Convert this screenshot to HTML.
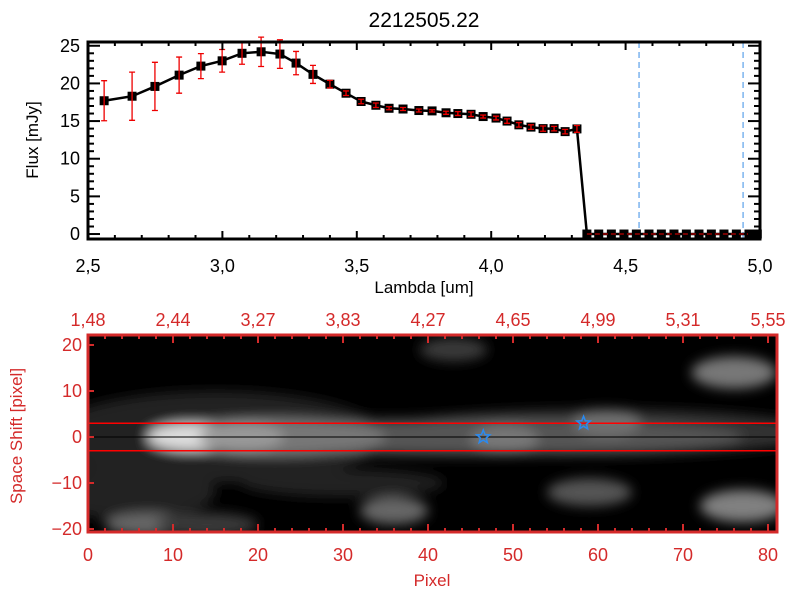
<!DOCTYPE html>
<html><head><meta charset="utf-8"><style>
html,body{margin:0;padding:0;background:#fff;}
svg text{font-family:"Liberation Sans",sans-serif;}
</style></head><body>
<svg id="fig" width="800" height="600" xmlns="http://www.w3.org/2000/svg">
<defs>
<filter id="blur" x="-30%" y="-80%" width="160%" height="260%"><feGaussianBlur stdDeviation="6"/></filter>
<clipPath id="hclip"><rect x="89" y="336" width="687" height="195"/></clipPath>
</defs>
<text x="424" y="27" font-size="21" text-anchor="middle">2212505.22</text>
<g id="topg"></g>
<g id="botg"></g>
</svg>
<script>
const lambdas=[2.560,2.664,2.749,2.839,2.920,2.999,3.073,3.144,3.214,3.274,3.337,3.400,3.460,3.516,3.571,3.620,3.672,3.731,3.780,3.832,3.876,3.925,3.970,4.018,4.059,4.103,4.148,4.193,4.234,4.275,4.319,4.356,4.40,4.447,4.494,4.540,4.587,4.633,4.680,4.726,4.773,4.819,4.866,4.912,4.959,4.99];
const fluxes=[17.7,18.3,19.6,21.1,22.3,23.0,24.0,24.2,23.9,22.7,21.2,19.9,18.7,17.6,17.1,16.7,16.6,16.4,16.35,16.1,16.0,15.9,15.6,15.4,15.0,14.5,14.2,14.0,14.0,13.6,13.96,0,0,0,0,0,0,0,0,0,0,0,0,0,0,0];
const errors=[2.66,3.2,3.2,2.4,1.66,1.5,1.45,1.95,1.9,1.55,1.2,0.5,0.3,0.3,0.3,0.2,0.2,0.2,0.15,0.2,0.25,0.3,0.2,0.25,0.3,0.3,0.3,0.35,0.3,0.3,0.45,0,0,0,0,0,0,0,0,0,0,0,0,0,0,0];
const xTicks=["2.5","3.0","3.5","4.0","4.5","5.0"];
const yTicks=["0","5","10","15","20","25"];
const vLines=[4.55,4.937];
const pixTicks=["0","10","20","30","40","50","60","70","80"];
const lamTop=["1.48","2.44","3.27","3.83","4.27","4.65","4.99","5.31","5.55"];
const shiftTicks=["-20","-10","0","10","20"];
const stars=[[46.5,0],[58.3,3]];
const NS="http://www.w3.org/2000/svg";
function mk(p,tag,a){const el=document.createElementNS(NS,tag);for(const k in a)el.setAttribute(k,a[k]);p.appendChild(el);return el;}
const X0=88,X1=760,Y0=239,Y1=42;
const xs=v=>X0+(v-2.5)/2.5*(X1-X0);
const ys=v=>Y0-(v+0.66)/(25.5+0.66)*(Y0-Y1);
const topG=document.getElementById('topg');
vLines.forEach(v=>{const l=mk(topG,'line',{x1:xs(v),x2:xs(v),y1:Y1,y2:Y0,stroke:'#3a8ee6','stroke-width':1,'stroke-dasharray':'6,4'});

});
const ln=mk(topG,'polyline',{points:lambdas.map((l,i)=>xs(l)+','+ys(fluxes[i])).join(' '),fill:'none',stroke:'#000','stroke-width':2.5});


lambdas.forEach((l,i)=>{const x=xs(l),y=ys(fluxes[i]);
 const m=mk(topG,'rect',{x:x-4.5,y:y-4.5,width:9,height:9,fill:'#000'});
 
 
 if(errors[i]>0){const a=ys(fluxes[i]+errors[i]),b=ys(fluxes[i]-errors[i]);
  const g=mk(topG,'path',{d:`M${x},${a}V${b}M${x-3},${a}h6M${x-3},${b}h6`,stroke:'#e00','stroke-width':1.3,fill:'none'});
  
  }
});
const zl=mk(topG,'line',{x1:xs(4.356),x2:X1,y1:ys(0),y2:ys(0),stroke:'#e00','stroke-width':1,'stroke-dasharray':'5,3'});


mk(topG,'rect',{x:X0,y:Y1,width:X1-X0,height:Y0-Y1,fill:'none',stroke:'#000','stroke-width':3});
for(let v=2.5;v<=5.001;v+=0.1){const x=xs(v),mj=Math.abs(v*2-Math.round(v*2))<0.01,h=mj?8:4;
 mk(topG,'line',{x1:x,x2:x,y1:Y0,y2:Y0-h,stroke:'#000','stroke-width':2});mk(topG,'line',{x1:x,x2:x,y1:Y1,y2:Y1+h,stroke:'#000','stroke-width':2});}
for(let v=0;v<=25;v++){const y=ys(v),h=v%5==0?12:6;
 mk(topG,'line',{x1:X0,x2:X0+h,y1:y,y2:y,stroke:'#000','stroke-width':2});mk(topG,'line',{x1:X1,x2:X1-h,y1:y,y2:y,stroke:'#000','stroke-width':2});}
xTicks.forEach(t=>{const el=mk(topG,'text',{x:xs(parseFloat(t)),y:272,'font-size':18,'text-anchor':'middle'});el.textContent=t.replace('.',',');
 
 });
yTicks.forEach(t=>{const el=mk(topG,'text',{x:80,y:ys(parseFloat(t))+6,'font-size':18,'text-anchor':'end'});el.textContent=t;
 
 });
let tx=mk(topG,'text',{x:424,y:293,'font-size':17,'text-anchor':'middle'});tx.textContent='Lambda [um]';


tx=mk(topG,'text',{x:38,y:140,'font-size':17,'text-anchor':'middle',transform:'rotate(-90 38 140)'});tx.textContent='Flux [mJy]';


const B0=88,B1=777,BT=335,BB=532;
const px=v=>B0+v*8.5;
const py=v=>437-v*4.6;
const botG=document.getElementById('botg');
const R='#d42a2a';
mk(botG,'rect',{x:B0,y:BT,width:B1-B0,height:BB-BT,fill:'#000'});
const hg=mk(botG,'g',{'clip-path':'url(#hclip)'});


const fg=mk(hg,'g',{filter:'url(#blur)'});
const blobs=[[15,0,20,10,'#202020'],[5,-12,10,6,'#222'],[30,-10,12,3,'#222'],[60,1,26,5,'#333'],[45,0,32,4,'#555'],[22,0,13,4,'#777'],[12,0,5,3,'#ddd'],[18,0,5,3,'#999'],[49,-0.5,4,3,'#777'],[61,3,4,3,'#707070'],
[7,-19,5,2.5,'#666'],[14,-19,6,2.5,'#3a3a3a'],[36,-16,4,3,'#666'],[43,19,4,2.5,'#3a3a3a'],[76,14,5,3.5,'#777'],[77,-15,5,3.5,'#808080'],[59,-12,5,3,'#555']];
blobs.forEach(b=>{mk(fg,'ellipse',{cx:px(b[0]),cy:py(b[1]),rx:b[2]*8.5,ry:b[3]*4.6,fill:b[4]});});
[3,-3].forEach(v=>{const l=mk(botG,'line',{x1:B0,x2:B1,y1:py(v),y2:py(v),stroke:'#f00','stroke-width':1.5});

});
mk(botG,'line',{x1:B0,x2:B1,y1:py(0),y2:py(0),stroke:'#000','stroke-width':1});
stars.forEach(s=>{const cx=px(s[0]),cy=py(s[1]);let d='';
 for(let k=0;k<10;k++){const r=k%2?3:7,a=-Math.PI/2+k*Math.PI/5;d+=(k?'L':'M')+(cx+r*Math.cos(a))+','+(cy+r*Math.sin(a));}
 const t=mk(botG,'path',{d:d+'Z',fill:'none',stroke:'#2a8af0','stroke-width':1.5});
 
 });
mk(botG,'rect',{x:B0,y:BT,width:B1-B0,height:BB-BT,fill:'none',stroke:R,'stroke-width':3});
for(let v=0;v<=81;v+=2){const x=px(v),h=v%10==0?8:4;
 mk(botG,'line',{x1:x,x2:x,y1:BB,y2:BB-h,stroke:R,'stroke-width':2});mk(botG,'line',{x1:x,x2:x,y1:BT,y2:BT+h,stroke:R,'stroke-width':2});}
for(let v=-20;v<=20;v+=10){mk(botG,'line',{x1:B0,x2:B0+6,y1:py(v),y2:py(v),stroke:R,'stroke-width':2});}
pixTicks.forEach(t=>{const el=mk(botG,'text',{x:px(+t),y:561,'font-size':18,'text-anchor':'middle',fill:R});el.textContent=t;
 
 });
lamTop.forEach((t,i)=>{const el=mk(botG,'text',{x:px(i*10),y:326,'font-size':18,'text-anchor':'middle',fill:R});el.textContent=t.replace('.',',');
 
 });
shiftTicks.forEach(t=>{const el=mk(botG,'text',{x:82,y:py(+t)+6,'font-size':18,'text-anchor':'end',fill:R});el.textContent=t.replace('-','−');
 
 });
tx=mk(botG,'text',{x:432,y:586,'font-size':17,'text-anchor':'middle',fill:R});tx.textContent='Pixel';


tx=mk(botG,'text',{x:22,y:436,'font-size':17,'text-anchor':'middle',fill:R,transform:'rotate(-90 22 436)'});tx.textContent='Space Shift [pixel]';


</script>
</body></html>
